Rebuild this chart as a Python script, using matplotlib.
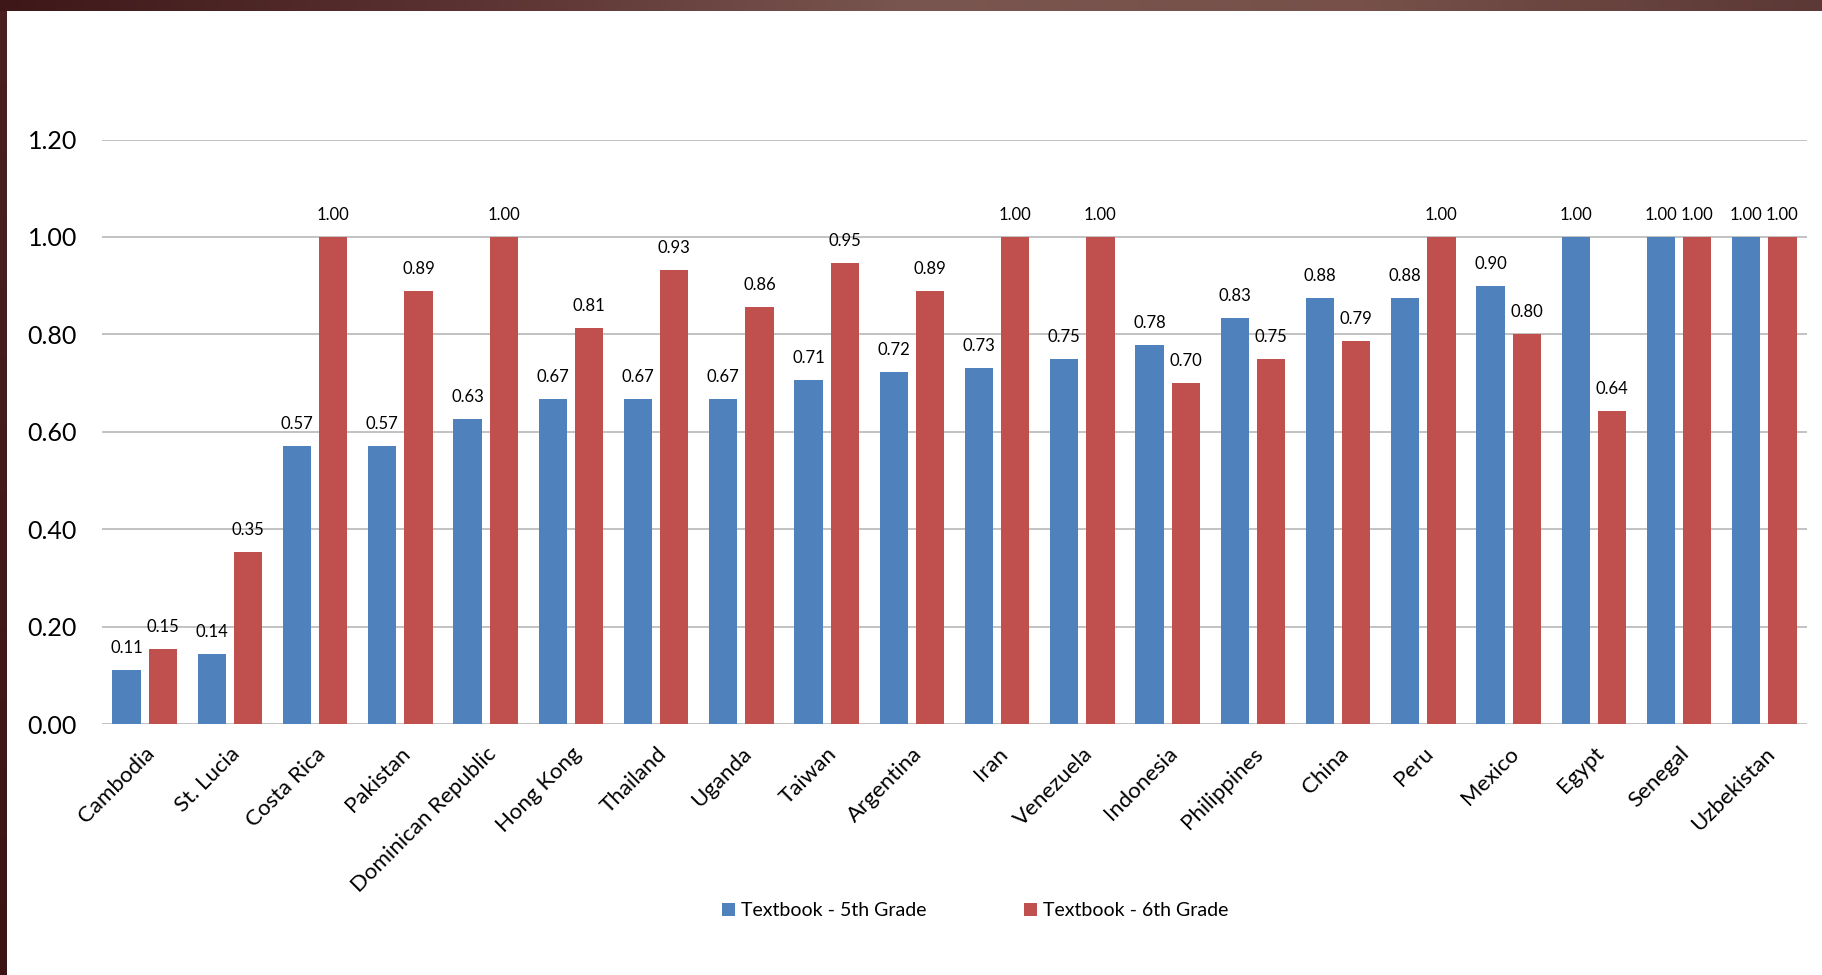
import numpy as np
import matplotlib
matplotlib.use("Agg")
import matplotlib.pyplot as plt
from matplotlib.colors import LinearSegmentedColormap

# data
countries = ["Cambodia", "St. Lucia", "Costa Rica", "Pakistan", "Dominican Republic",
             "Hong Kong", "Thailand", "Uganda", "Taiwan", "Argentina", "Iran",
             "Venezuela", "Indonesia", "Philippines", "China", "Peru", "Mexico",
             "Egypt", "Senegal", "Uzbekistan"]
grade5 = [0.111, 0.143, 0.571, 0.571, 0.627, 0.667, 0.667, 0.667, 0.706, 0.722,
          0.731, 0.75, 0.778, 0.833, 0.875, 0.875, 0.90, 1.00, 1.00, 1.00]
grade6 = [0.154, 0.353, 1.00, 0.889, 1.00, 0.813, 0.933, 0.857, 0.947, 0.889,
          1.00, 1.00, 0.70, 0.75, 0.786, 1.00, 0.80, 0.643, 1.00, 1.00]
series_names = ["Textbook - 5th Grade", "Textbook - 6th Grade"]
yticks = [0.0, 0.2, 0.4, 0.6, 0.8, 1.0, 1.2]

BLUE = "#4F81BD"
RED = "#C0504D"

plt.rcParams["font.family"] = ["Lato", "DejaVu Sans"]

W, H = 1822, 975
fig = plt.figure(figsize=(W / 100, H / 100), dpi=100)

# frame decoration: gradient band on top, dark strip on the left
band = fig.add_axes([0, 1 - 11 / H, 1, 11 / H])
band_cmap = LinearSegmentedColormap.from_list(
    "band", ["#3e1718", "#5a3231", "#7a5650", "#765049", "#5c3836"])
band.imshow(np.linspace(0, 1, 256)[None, :], aspect="auto", cmap=band_cmap)
band.axis("off")
strip = fig.add_axes([0, 0, 7 / W, 1 - 11 / H])
strip_cmap = LinearSegmentedColormap.from_list("strip", ["#4a2020", "#3c1212"])
strip.imshow(np.linspace(0, 1, 256)[:, None], aspect="auto", cmap=strip_cmap)
strip.axis("off")

left, right, top, bottom = 102, 1807, 139.5, 724
ax = fig.add_axes([left / W, 1 - bottom / H, (right - left) / W, (bottom - top) / H])

x = np.arange(len(countries))
bw = 0.33
off = 0.212
b1 = ax.bar(x - off, grade5, bw, color=BLUE, label=series_names[0], zorder=3)
b2 = ax.bar(x + off, grade6, bw, color=RED, label=series_names[1], zorder=3)
ax.bar_label(b1, fmt="%.2f", padding=10, fontsize=12)
ax.bar_label(b2, fmt="%.2f", padding=10, fontsize=12)

ax.set_ylim(0, 1.2)
ax.set_xlim(-0.5, len(countries) - 0.5)
ax.set_yticks(yticks)
ax.set_yticklabels([f"{v:.2f}" for v in yticks], fontsize=18)
ax.tick_params(axis="y", length=0, pad=18)
ax.tick_params(axis="x", length=0, pad=14)
ax.set_xticks(x)
ax.set_xticklabels(countries, rotation=45, ha="right", rotation_mode="anchor",
                   fontsize=16)
ax.grid(axis="y", color="#b8b8b8", linewidth=1.2, zorder=0)
for s in ax.spines.values():
    s.set_visible(False)

fig.legend(handles=[b1, b2], loc="center", bbox_to_anchor=(975 / W, 1 - 911 / H),
           ncol=2, frameon=False, fontsize=14, handlelength=0.7, handleheight=0.7,
           handletextpad=0.3, columnspacing=5.0)

fig.savefig("out.png", dpi=100, facecolor="white")
